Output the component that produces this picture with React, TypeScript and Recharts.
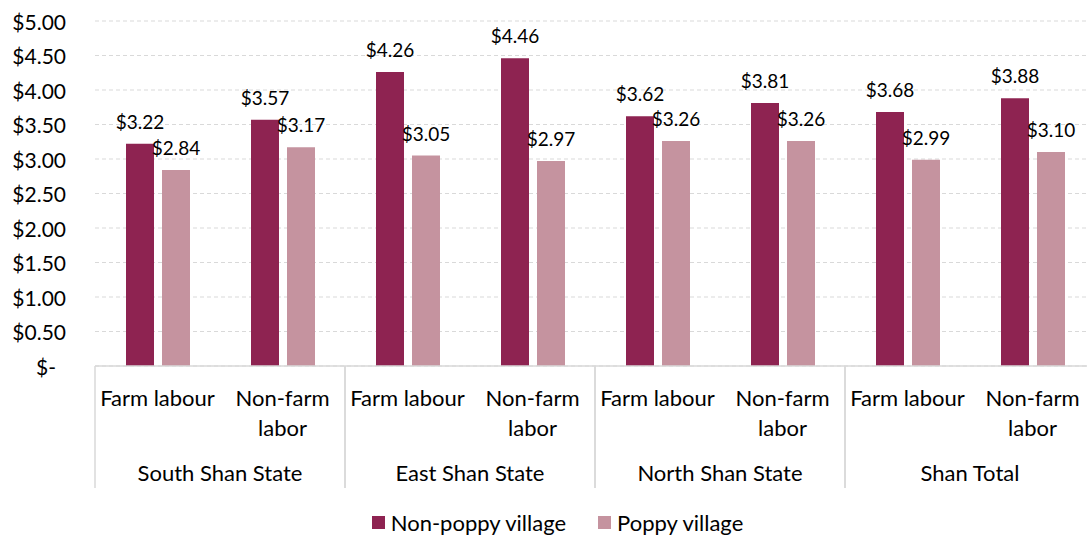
import React from 'react';
import { BarChart, Bar, XAxis, YAxis, CartesianGrid, Legend, LabelList } from 'recharts';

const categories = ['Farm labour', 'Non-farm labor', 'Farm labour', 'Non-farm labor', 'Farm labour', 'Non-farm labor', 'Farm labour', 'Non-farm labor'];
const groups = ['South Shan State', 'South Shan State', 'East Shan State', 'East Shan State', 'North Shan State', 'North Shan State', 'Shan Total', 'Shan Total'];
const nonPoppy = [3.22, 3.57, 4.26, 4.46, 3.62, 3.81, 3.68, 3.88];
const poppy = [2.84, 3.17, 3.05, 2.97, 3.26, 3.26, 2.99, 3.10];
const yTicks = [0, 0.5, 1, 1.5, 2, 2.5, 3, 3.5, 4, 4.5, 5];

const data = categories.map((c, i) => ({
  key: `${groups[i]}|${c}`,
  category: c,
  group: groups[i],
  nonPoppy: nonPoppy[i],
  poppy: poppy[i],
}));

const DARK = '#8E2351';
const LIGHT = '#C5939F';
const FONT = 'Lato, sans-serif';

const money = (v: number) => (v === 0 ? '$-' : `$${v.toFixed(2)}`);

const YTick = ({ x, y, payload }: any) => (
  <text x={payload.value === 0 ? x - 31 : x - 21} y={y} textAnchor="end" dominantBaseline="central" fontSize={21} fontFamily={FONT} fill="#000">
    {money(payload.value)}
  </text>
);

const XTick = ({ x, y, payload }: any) => {
  const i = payload.index;
  const half = payload.offset || 63;
  const d = data[i];
  const words = d.category === 'Non-farm labor' ? ['Non-farm', 'labor'] : [d.category];
  return (
    <g>
      {words.map((w, k) => (
        <text key={k} x={x} y={y + 31 + k * 30} textAnchor="middle" dominantBaseline="central" fontSize={22} fontFamily={FONT} fill="#000">
          {w}
        </text>
      ))}
      {i % 2 === 0 && (
        <>
          <line x1={x - half} x2={x - half} y1={y} y2={y + 122} stroke="#d9d9d9" strokeWidth={1.5} />
          <text x={x + half} y={y + 106} textAnchor="middle" dominantBaseline="central" fontSize={22} fontFamily={FONT} fill="#000">
            {d.group}
          </text>
        </>
      )}
      {i % 2 === 1 && <line x1={x + half} x2={x + half} y1={y} y2={y + 122} stroke="#d9d9d9" strokeWidth={1.5} />}
    </g>
  );
};

const LegendContent = () => (
  <div style={{ display: 'flex', justifyContent: 'center', alignItems: 'center', paddingTop: 13, paddingLeft: 20, fontFamily: FONT, fontSize: 22, color: '#000' }}>
    {[
      { label: 'Non-poppy village', color: DARK },
      { label: 'Poppy village', color: LIGHT },
    ].map((it, k) => (
      <span key={k} style={{ display: 'flex', alignItems: 'center', marginLeft: k ? 32 : 0 }}>
        <span style={{ width: 13, height: 13, background: it.color, marginRight: 6, display: 'inline-block' }} />
        {it.label}
      </span>
    ))}
  </div>
);

export default function App() {
  return (
    <div style={{ position: 'fixed', left: 0, top: 0, width: 1087, height: 536, overflow: 'hidden', background: '#fff' }}>
      <BarChart width={1103} height={536} data={data} margin={{ top: 21, right: 8, left: 0, bottom: 0 }} barSize={28} barGap={8}>
        <CartesianGrid horizontal vertical={false} stroke="#d9d9d9" strokeDasharray="4 3" />
        <XAxis
          dataKey="key"
          height={130}
          interval={0}
          tickLine={false}
          tickSize={0}
          tickMargin={0}
          axisLine={{ stroke: '#d9d9d9', strokeWidth: 1.5 }}
          tick={<XTick />}
        />
        <YAxis width={95} domain={[0, 5]} ticks={yTicks} axisLine={false} tickLine={false} tick={<YTick />} interval={0} />
        <Legend verticalAlign="bottom" height={40} content={<LegendContent />} />
        <Bar dataKey="nonPoppy" name="Non-poppy village" fill={DARK} isAnimationActive={false}>
          <LabelList dataKey="nonPoppy" position="top" offset={15} formatter={(v: any) => money(v)} fontSize={19} fontFamily={FONT} fill="#000" />
        </Bar>
        <Bar dataKey="poppy" name="Poppy village" fill={LIGHT} isAnimationActive={false}>
          <LabelList dataKey="poppy" position="top" offset={15} formatter={(v: any) => money(v)} fontSize={19} fontFamily={FONT} fill="#000" />
        </Bar>
      </BarChart>
    </div>
  );
}
